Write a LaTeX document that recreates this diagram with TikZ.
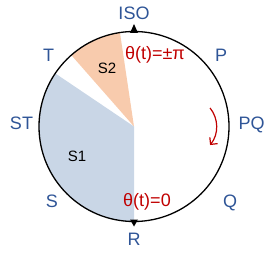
\documentclass[tikz,border=0pt]{standalone}
\usepackage{fontspec}
\setmainfont{Liberation Sans}
\usetikzlibrary{arrows.meta}
\definecolor{lblue}{HTML}{2F5597}
\definecolor{tred}{HTML}{C00000}
\definecolor{sone}{HTML}{C9D6E6}
\definecolor{stwo}{HTML}{F8CBAD}
\begin{document}
\begin{tikzpicture}[x=1pt,y=1pt,
  lbl/.style={anchor=base,inner sep=0pt,text=lblue,font=\fontsize{18}{18}\selectfont},
  thlbl/.style={anchor=base,inner sep=0pt,text=tred,font=\fontsize{18}{18}\selectfont},
  slbl/.style={anchor=base,inner sep=0pt,text=black,font=\fontsize{15}{15}\selectfont},
  marker/.style={fill=black,draw=none}]
\useasboundingbox (0,0) rectangle (273,252);
\coordinate (C) at (134,125.5);
% sectors
\fill[sone] (C) -- ++(146:95) arc[start angle=146,end angle=270,radius=95] -- cycle;
\fill[stwo] (C) -- ++(98.5:95) arc[start angle=98.5,end angle=131.3,radius=95] -- cycle;
% circle
\draw[line width=1.3pt] (C) circle[radius=95];
% markers
\fill[marker] (130,219) -- (138,219) -- (134,228) -- cycle;
\fill[marker] (130,32.5) -- (138,32.5) -- (134,25.5) -- cycle;
% rotation arrow
\coordinate (A0) at (187,125.5);
\draw[tred,line width=1.2pt,-{Straight Barb[length=5pt,width=10pt]}] (A0) ++(38.8:29.6) arc[start angle=38.8,end angle=-38.8,radius=29.6];
% labels
\node[lbl] (iso) at (134,232) {ISO};
\node[lbl] (p) at (221,190.5) {P};
\node[lbl] (t) at (48.5,190.5) {T};
\node[lbl] (pq) at (251.5,122) {PQ};
\node[lbl] (st) at (21.5,122) {ST};
\node[lbl] (q) at (230,45) {Q};
\node[lbl] (s) at (52,45) {S};
\node[lbl] (r) at (134,7) {R};
\node[thlbl] (thpi) at (155,192) {θ(t)=±π};
\node[thlbl] (th0) at (147,45.5) {θ(t)=0};
\node[slbl] (s2) at (107,178) {S2};
\node[slbl] (s1) at (77,91) {S1};
\end{tikzpicture}
\end{document}
